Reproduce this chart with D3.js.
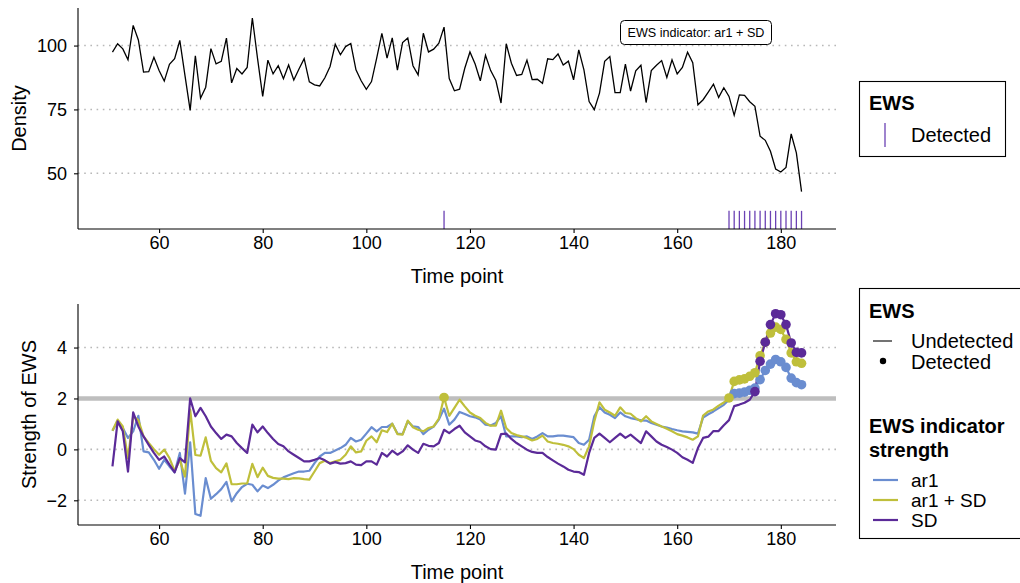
<!DOCTYPE html>
<meta charset="utf-8">
<head>
    <script src="https://d3js.org/d3.v7.min.js"></script>
</head>
<body style="margin:0; background:#fff;">
    <div id="svg_div"></div>
</body>
<style>
    text { font-family: "Liberation Sans", Arial, sans-serif; }
</style>
<script>

    // time points 51..184
    var timePoints = d3.range(51, 185);

    var density = [
        97.4, 100.7, 98.7, 94.4, 107.9, 102.2, 89.6, 89.8, 95.4, 90.2,
        86.1, 92.7, 94.9, 102.0, 88.2, 74.6, 96.0, 79.4, 83.7, 98.8,
        92.8, 93.8, 102.9, 85.4, 91.0, 88.9, 91.4, 110.8, 95.0, 80.1,
        94.3, 88.9, 92.1, 87.0, 92.4, 86.5, 90.8, 94.9, 85.8, 84.6,
        84.2, 87.4, 91.8, 100.5, 96.4, 99.6, 100.8, 90.5, 86.2, 82.9,
        85.9, 95.1, 104.8, 95.1, 103.0, 90.4, 101.2, 103.0, 92.1, 88.5,
        104.8, 97.5, 98.6, 100.9, 107.2, 87.1, 82.3, 82.9, 91.1, 97.5,
        92.8, 86.2, 96.2, 90.2, 86.3, 77.5, 100.7, 93.1, 88.3, 88.7,
        94.3, 86.7, 86.8, 85.2, 94.8, 94.5, 96.7, 92.4, 93.9, 86.6,
        98.3, 90.5, 78.1, 74.9, 81.4, 93.8, 95.7, 81.6, 81.6, 92.7,
        82.2, 90.1, 92.3, 77.7, 90.2, 92.3, 94.1, 87.5, 94.4, 88.9,
        91.4, 97.4, 93.3, 76.8, 78.8, 81.8, 84.9, 79.7, 83.5, 80.1,
        72.7, 80.7, 80.5, 78.0, 76.2, 64.5, 62.9, 58.6, 51.7, 50.5,
        52.3, 65.4, 58.0, 42.8
    ];

    // time points where the ar1 + SD indicator flagged an EWS
    var detectedTimes = [115, 170, 171, 172, 173, 174, 175, 176, 177, 178, 179, 180, 181, 182, 183, 184];

    var ar1 = [
        0.73, 1.10, 0.84, 0.45, 0.71, 1.32, -0.08, -0.12, -0.41, -0.76,
        -0.41, -0.67, -0.90, -0.14, -1.74, 0.28, -2.54, -2.61, -1.13, -1.94,
        -1.76, -1.56, -1.28, -2.04, -1.72, -1.48, -1.35, -1.39, -1.65, -1.42,
        -1.52, -1.39, -1.23, -1.10, -1.02, -0.94, -0.87, -0.87, -0.84, -0.54,
        -0.28, -0.14, -0.14, -0.04, 0.05, 0.18, 0.45, 0.31, 0.38, 0.62,
        0.87, 0.71, 0.88, 0.88, 1.01, 0.62, 0.60, 1.10, 0.90, 0.88,
        0.60, 0.77, 0.90, 1.17, 1.60, 0.97, 1.17, 1.47, 1.39, 1.30,
        1.26, 1.17, 0.97, 0.94, 1.04, 1.30, 0.51, 0.51, 0.51, 0.48,
        0.51, 0.41, 0.51, 0.64, 0.51, 0.51, 0.54, 0.54, 0.51, 0.48,
        0.25, 0.18, 0.38, 1.30, 1.66, 1.45, 1.36, 1.23, 1.45, 1.30,
        1.23, 1.19, 1.14, 1.13, 1.04, 0.97, 0.90, 0.86, 0.80, 0.75,
        0.71, 0.69, 0.67, 0.62, 1.25, 1.38, 1.49, 1.62, 1.75, 1.95,
        2.19, 2.21, 2.25, 2.32, 2.41, 2.74, 3.10, 3.35, 3.53, 3.44,
        3.22, 2.80, 2.62, 2.54
    ];

    var ar1SD = [
        0.73, 1.17, 0.90, -0.35, 1.30, 1.15, 0.51, 0.25, 0.01, -0.21,
        -0.01, -0.34, -0.85, -0.41, -1.07, 1.56, -0.22, -0.25, 0.47, -0.45,
        -0.74, -0.90, -0.55, -1.37, -1.37, -1.34, -1.34, -0.57, -1.09, -0.72,
        -1.04, -1.12, -1.15, -1.15, -1.17, -1.13, -1.14, -1.17, -1.19, -0.87,
        -0.54, -0.45, -0.54, -0.47, -0.41, -0.21, 0.12, -0.12, -0.08, 0.34,
        0.51, 0.28, 0.75, 0.68, 1.01, 0.60, 0.58, 1.13, 0.87, 0.77,
        0.71, 0.84, 0.90, 1.21, 2.04, 1.32, 1.63, 1.95, 1.69, 1.45,
        1.32, 1.23, 1.04, 0.93, 0.93, 1.52, 0.84, 0.64, 0.56, 0.51,
        0.45, 0.35, 0.41, 0.54, 0.31, 0.25, 0.22, 0.18, 0.12, 0.01,
        -0.21, -0.34, 0.12, 1.10, 1.85, 1.56, 1.45, 1.32, 1.65, 1.43,
        1.40, 1.23, 1.10, 1.30, 1.10, 1.00, 0.90, 0.81, 0.71, 0.60,
        0.54, 0.47, 0.38, 0.51, 1.33, 1.49, 1.57, 1.72, 1.84, 2.02,
        2.67, 2.73, 2.77, 2.87, 3.01, 3.68, 4.21, 4.57, 4.80, 4.71,
        4.32, 3.79, 3.44, 3.38
    ];

    var sd = [
        -0.67, 1.10, 0.71, -0.87, 1.45, 0.90, 0.51, 0.18, -0.14, -0.41,
        -0.28, -0.60, -0.90, -0.34, -0.51, 2.00, 1.30, 1.63, 1.30, 0.90,
        0.64, 0.41, 0.58, 0.51, 0.25, 0.05, -0.14, 0.97, 0.67, 0.90,
        0.64, 0.41, 0.21, 0.12, -0.08, -0.21, -0.34, -0.47, -0.47, -0.41,
        -0.34, -0.43, -0.56, -0.50, -0.56, -0.54, -0.47, -0.60, -0.62, -0.47,
        -0.47, -0.60, -0.14, -0.28, -0.05, -0.21, -0.08, 0.16, -0.01, -0.14,
        0.22, 0.14, 0.12, 0.25, 0.77, 0.64, 0.80, 0.93, 0.67, 0.51,
        0.35, 0.29, 0.12, 0.01, -0.01, 0.60, 0.62, 0.41, 0.25, 0.12,
        -0.01, -0.10, -0.14, -0.14, -0.30, -0.43, -0.56, -0.67, -0.80, -0.87,
        -0.89, -1.00, -0.14, 0.45, 0.62, 0.45, 0.28, 0.45, 0.62, 0.45,
        0.58, 0.41, 0.25, 0.71, 0.51, 0.31, 0.18, 0.09, -0.01, -0.14,
        -0.31, -0.41, -0.53, 0.05, 0.45, 0.50, 0.72, 0.72, 0.95, 1.15,
        1.70, 1.76, 1.83, 1.95, 2.27, 3.46, 4.21, 4.90, 5.33, 5.29,
        4.90, 4.18, 3.81, 3.79
    ];

    // detected points per indicator
    var ar1Detected = [171, 172, 173, 174, 175, 176, 177, 178, 179, 180, 181, 182, 183, 184];
    var ar1SDDetected = [115, 170, 171, 172, 173, 174, 175, 176, 177, 178, 179, 180, 181, 182, 183, 184];
    var sdDetected = [175, 176, 177, 178, 179, 180, 181, 182, 183, 184];

    var xTicks = [60, 80, 100, 120, 140, 160, 180];
    var densityTicks = [50, 75, 100];
    var strengthTicks = [-2, 0, 2, 4];
    var thresholdValue = 2;

    var seriesNames = ["ar1", "ar1 + SD", "SD"];
    var seriesColors = { "ar1": "#6a8dd0", "ar1 + SD": "#bfbf3b", "SD": "#5b2a98" };
    var tickColor = "#6b42b4";

    function draw_chart() {
        let W = 1020, H = 583;
        let svg = d3.select("#svg_div").append("svg")
            .attr("width", W)
            .attr("height", H);

        let left = 78, right = 836;
        let font_tick = "18px", font_title = "20px";

        let x = d3.scaleLinear().domain([44.35, 190.65]).range([left, right]);
        let yTop = d3.scaleLinear().domain([28.2, 114.7]).range([229, 8]);
        let yBot = d3.scaleLinear().domain([-2.97, 5.71]).range([525, 304]);

        function grid(g, y, ticks) {
            g.selectAll("line.grid").data(ticks).enter().append("line")
                .attr("x1", left).attr("x2", right)
                .attr("y1", d => y(d)).attr("y2", d => y(d))
                .attr("stroke", "#b8b8b8")
                .attr("stroke-width", 1.6)
                .attr("stroke-dasharray", "1.6,4.6");
        }

        function axes(g, y, ticks, bottomY, topY, titleY) {
            let xa = g.append("g")
                .attr("transform", "translate(0," + bottomY + ")")
                .call(d3.axisBottom(x).tickValues(xTicks).tickSize(4).tickPadding(3).tickSizeOuter(0));
            let ya = g.append("g")
                .attr("transform", "translate(" + left + ",0)")
                .call(d3.axisLeft(y).tickValues(ticks).tickSize(4).tickPadding(7).tickSizeOuter(0));
            [xa, ya].forEach(a => {
                a.select(".domain").attr("stroke", "#000").attr("stroke-width", 1.1);
                a.selectAll(".tick line").attr("stroke", "#000").attr("stroke-width", 1.1);
                a.selectAll(".tick text").attr("fill", "#000").style("font-size", font_tick)
                    .style("font-family", "Liberation Sans, Arial, sans-serif");
            });
            ya.select(".domain").attr("d", "M0," + topY + "V" + bottomY);
            xa.select(".domain").attr("d", "M" + left + ",0H" + right);
            g.append("text")
                .attr("x", (left + right) / 2)
                .attr("y", titleY)
                .attr("text-anchor", "middle")
                .style("font-size", font_title)
                .text("Time point");
        }

        // ---- top panel: density ----
        let top = svg.append("g");
        grid(top, yTop, densityTicks);

        top.append("path")
            .datum(density)
            .attr("fill", "none")
            .attr("stroke", "#000")
            .attr("stroke-width", 1.3)
            .attr("d", d3.line().x((d, i) => x(timePoints[i])).y(d => yTop(d)));

        top.selectAll("line.detected").data(detectedTimes).enter().append("line")
            .attr("x1", d => x(d)).attr("x2", d => x(d))
            .attr("y1", yTop(28.2)).attr("y2", yTop(35.3))
            .attr("stroke", tickColor)
            .attr("stroke-width", 1.3);

        axes(top, yTop, densityTicks, 229, 8, 283);

        top.append("text")
            .attr("transform", "translate(26,118.5) rotate(-90)")
            .attr("text-anchor", "middle")
            .style("font-size", font_title)
            .text("Density");

        // annotation label
        let lab = top.append("g");
        lab.append("rect")
            .attr("x", 620.5).attr("y", 20.5)
            .attr("width", 151).attr("height", 24)
            .attr("rx", 4).attr("ry", 4)
            .attr("fill", "#fff").attr("stroke", "#000").attr("stroke-width", 1);
        lab.append("text")
            .attr("x", 696).attr("y", 37)
            .attr("text-anchor", "middle")
            .style("font-size", "12.6px")
            .text("EWS indicator: ar1 + SD");

        // ---- bottom panel: EWS strength ----
        let bot = svg.append("g");
        grid(bot, yBot, strengthTicks);

        bot.append("line")
            .attr("x1", left).attr("x2", right)
            .attr("y1", yBot(thresholdValue)).attr("y2", yBot(thresholdValue))
            .attr("stroke", "#bebebe")
            .attr("stroke-width", 4.5);

        let seriesData = [
            { name: "ar1", values: ar1, detected: ar1Detected },
            { name: "ar1 + SD", values: ar1SD, detected: ar1SDDetected },
            { name: "SD", values: sd, detected: sdDetected }
        ];

        let line = d3.line().x((d, i) => x(timePoints[i])).y(d => yBot(d));

        seriesData.forEach(s => {
            bot.append("path")
                .datum(s.values)
                .attr("fill", "none")
                .attr("stroke", seriesColors[s.name])
                .attr("stroke-width", 2.2)
                .attr("stroke-linejoin", "round")
                .attr("d", line);
        });
        seriesData.forEach(s => {
            bot.selectAll(null).data(s.detected).enter().append("circle")
                .attr("cx", d => x(d))
                .attr("cy", d => yBot(s.values[timePoints.indexOf(d)]))
                .attr("r", 4.8)
                .attr("fill", seriesColors[s.name]);
        });

        axes(bot, yBot, strengthTicks, 525, 304, 579);

        bot.append("text")
            .attr("transform", "translate(36,414.5) rotate(-90)")
            .attr("text-anchor", "middle")
            .style("font-size", font_title)
            .text("Strength of EWS");

        // ---- legends ----
        let lg1 = svg.append("g");
        lg1.append("rect")
            .attr("x", 859.5).attr("y", 81.5).attr("width", 146).attr("height", 75)
            .attr("fill", "#fff").attr("stroke", "#000").attr("stroke-width", 1.1);
        lg1.append("text").attr("x", 869).attr("y", 110)
            .style("font-size", font_title).style("font-weight", "bold").text("EWS");
        lg1.append("line")
            .attr("x1", 885).attr("x2", 885).attr("y1", 123).attr("y2", 147)
            .attr("stroke", tickColor).attr("stroke-width", 1.3);
        lg1.append("text").attr("x", 911).attr("y", 142)
            .style("font-size", font_title).text("Detected");

        let lg2 = svg.append("g");
        lg2.append("rect")
            .attr("x", 859.5).attr("y", 288.5).attr("width", 170).attr("height", 250)
            .attr("fill", "#fff").attr("stroke", "#000").attr("stroke-width", 1.1);
        lg2.append("text").attr("x", 869).attr("y", 318)
            .style("font-size", font_title).style("font-weight", "bold").text("EWS");
        lg2.append("line")
            .attr("x1", 873).attr("x2", 892).attr("y1", 341).attr("y2", 341)
            .attr("stroke", "#000").attr("stroke-width", 1.1);
        lg2.append("text").attr("x", 911).attr("y", 348)
            .style("font-size", font_title).text("Undetected");
        lg2.append("circle")
            .attr("cx", 883).attr("cy", 361).attr("r", 3.2).attr("fill", "#000");
        lg2.append("text").attr("x", 911).attr("y", 369)
            .style("font-size", font_title).text("Detected");

        lg2.append("text").attr("x", 869).attr("y", 433)
            .style("font-size", font_title).style("font-weight", "bold").text("EWS indicator");
        lg2.append("text").attr("x", 869).attr("y", 457)
            .style("font-size", font_title).style("font-weight", "bold").text("strength");

        seriesNames.forEach((name, i) => {
            let yy = 480 + i * 20;
            lg2.append("line")
                .attr("x1", 873).attr("x2", 898).attr("y1", yy).attr("y2", yy)
                .attr("stroke", seriesColors[name]).attr("stroke-width", 2.2);
            lg2.append("text").attr("x", 911).attr("y", yy + 7)
                .style("font-size", "19px").text(name);
        });
    }

    draw_chart();

</script>
